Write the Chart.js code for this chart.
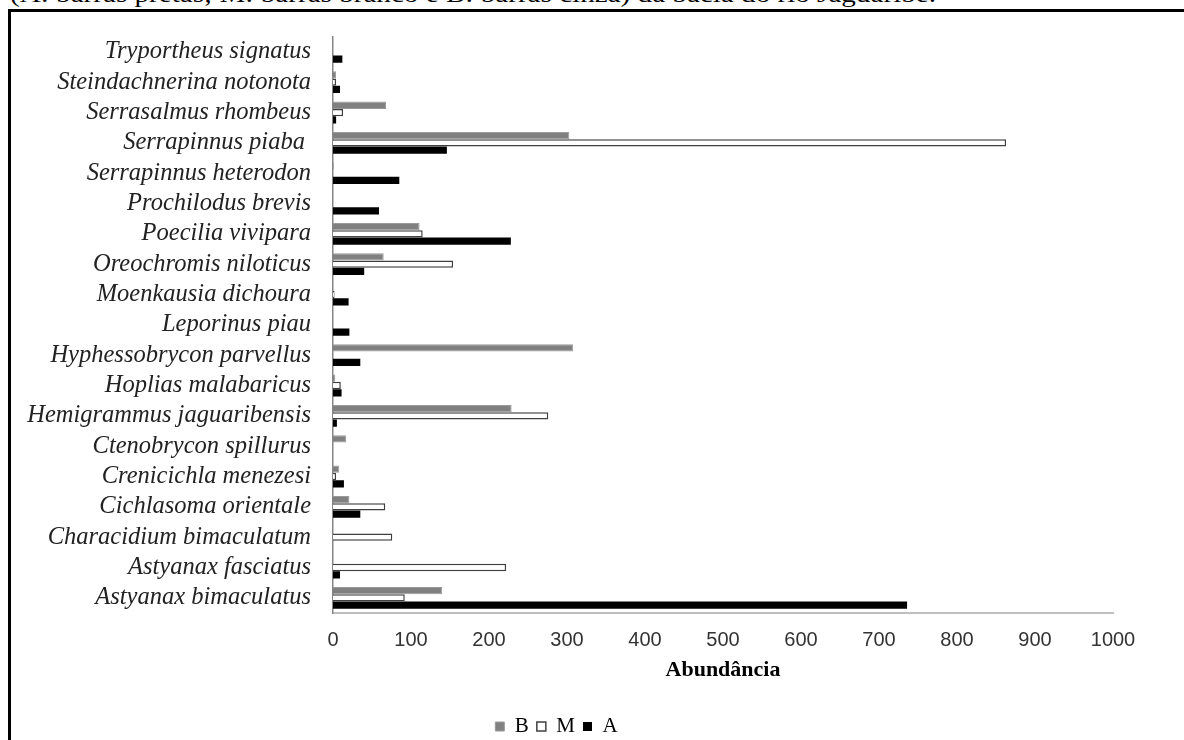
<!DOCTYPE html>
<html>
<head>
<meta charset="utf-8">
<script src="https://cdn.jsdelivr.net/npm/chart.js@4.4.1/dist/chart.umd.min.js"></script>
<style>
  html, body { margin: 0; padding: 0; background: #fff; }
  body { width: 1184px; height: 740px; position: relative; overflow: hidden; }
  #frame { position: absolute; left: 8px; top: 9px; width: 3000px; height: 3000px;
           border-left: 3px solid #000; border-top: 3px solid #000; }
  #caption { position: absolute; left: 0; top: 0; }
  #wrap { position: absolute; left: 0; top: 0; width: 1184px; height: 740px; }
</style>
</head>
<body>
<svg id="caption" width="1184" height="12">
  <text x="10" y="2" textLength="926" lengthAdjust="spacingAndGlyphs"
        font-family="Liberation Serif" font-size="24" fill="#000">(A: barras pretas; M: barras branco e B: barras cinza) da bacia do rio Jaguaribe.</text>
</svg>
<div id="frame"></div>
<div id="wrap"><canvas id="fishChart"></canvas></div>
<script>
// especies, de cima para baixo
const species = [
  "Tryportheus signatus",
  "Steindachnerina notonota",
  "Serrasalmus rhombeus",
  "Serrapinnus piaba ",
  "Serrapinnus heterodon",
  "Prochilodus brevis",
  "Poecilia vivipara",
  "Oreochromis niloticus",
  "Moenkausia dichoura",
  "Leporinus piau",
  "Hyphessobrycon parvellus",
  "Hoplias malabaricus",
  "Hemigrammus jaguaribensis",
  "Ctenobrycon spillurus",
  "Crenicichla menezesi",
  "Cichlasoma orientale",
  "Characidium bimaculatum",
  "Astyanax fasciatus",
  "Astyanax bimaculatus"
];

const valuesB = [0, 4, 68, 303, 1, 0, 111, 65, 0, 0, 308, 3, 229, 17, 8, 21, 0, 0, 140];
const valuesM = [0, 4, 13, 863, 0, 0, 115, 154, 2, 0, 0, 10, 276, 0, 4, 67, 76, 222, 92];
const valuesA = [12, 9, 4, 146, 85, 59, 228, 40, 20, 21, 35, 11, 5, 0, 14, 35, 0, 9, 736];

const xTicks = [0, 100, 200, 300, 400, 500, 600, 700, 800, 900, 1000];

const ctx = document.getElementById("fishChart").getContext("2d");

new Chart(ctx, {
  type: "bar",
  data: {
    labels: species,
    datasets: [
      { label: "B", data: valuesB, backgroundColor: "#808080", borderColor: "#9a9a9a", borderWidth: 1 },
      { label: "M", data: valuesM, backgroundColor: "#ffffff", borderColor: "#404040", borderWidth: 1.5 },
      { label: "A", data: valuesA, backgroundColor: "#000000", borderColor: "#000000", borderWidth: 0 }
    ]
  },
  options: {
    indexAxis: "y",
    responsive: true,
    maintainAspectRatio: false,
    animation: false,
    datasets: { bar: { categoryPercentage: 0.72, barPercentage: 1.0, borderSkipped: "start" } },
    layout: { padding: { top: 33, right: 71, left: 0, bottom: -7 } },
    plugins: {
      legend: {
        position: "bottom",
        labels: {
          boxWidth: 9, boxHeight: 9, padding: 8, color: "#000",
          font: { family: "Liberation Serif", size: 21 }
        }
      },
      tooltip: { enabled: false }
    },
    scales: {
      x: {
        min: 0, max: 1000,
        afterBuildTicks: s => { s.ticks = xTicks.map(v => ({ value: v })); },
        afterFit: s => { s.height = 747 - s.chart.legend.height - 613; },
        grid: { display: false, drawTicks: false },
        border: { display: true, color: "#bfbfbf", width: 2 },
        ticks: {
          padding: 15, color: "#333", font: { family: "Liberation Sans", size: 20 },
          callback: v => String(v)
        },
        title: {
          display: true, text: "Abundância", color: "#000",
          font: { family: "Liberation Serif", size: 22, weight: "bold" },
          padding: { top: 0, bottom: 24 }
        }
      },
      y: {
        afterFit: s => { s.width = 333; },
        grid: { display: false, drawTicks: false },
        border: { display: true, color: "#868686", width: 1.5 },
        ticks: {
          autoSkip: false, padding: 22, color: "#222",
          font: { family: "Liberation Serif", size: 24.5, style: "italic" }
        }
      }
    }
  }
});
</script>
</body>
</html>
